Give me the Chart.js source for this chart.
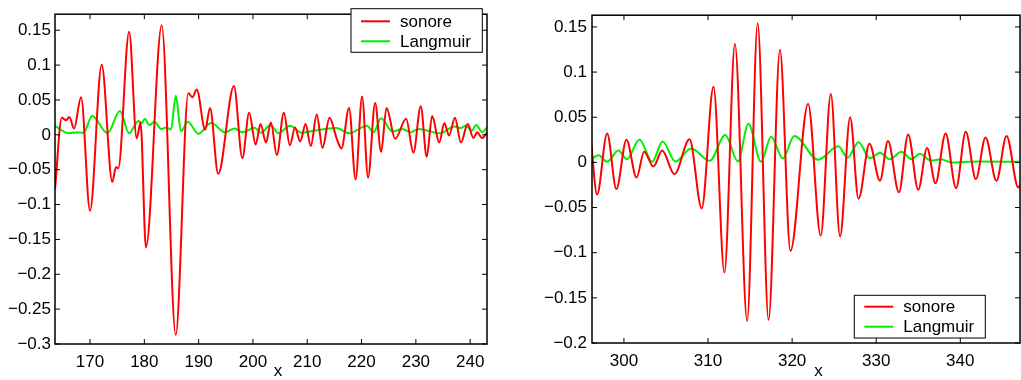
<!DOCTYPE html>
<html>
<head>
<meta charset="utf-8">
<script src="https://cdn.jsdelivr.net/npm/chart.js@4.4.1/dist/chart.umd.min.js"></script>
<style>
  html, body { margin: 0; padding: 0; background: #fff; }
  #wrap { position: relative; width: 1021px; height: 380px; overflow: hidden; }
  .panel { position: absolute; top: 0; height: 380px; }
  #left { left: 0; width: 510px; }
  #right { left: 510px; width: 511px; }
</style>
</head>
<body>
<div id="wrap">
  <div class="panel" id="left"><canvas id="chartLeft"></canvas></div>
  <div class="panel" id="right"><canvas id="chartRight"></canvas></div>
</div>
<script>
// --- left panel data (x, value) ---
const leftSonoreX = [163.55, 164.8, 165.6, 166.2, 167.05, 168.35, 170.0, 172.15, 174.1, 174.8, 175.2, 177.2, 178.6, 179.3, 180.3, 183.2, 185.78, 188.1, 188.85, 189.65, 191.2, 192.1, 193.6, 196.5, 198.05, 199.3, 200.5, 201.4, 202.4, 203.3, 204.4, 205.7, 206.8, 207.75, 208.7, 209.7, 210.65, 211.75, 212.8, 214.1, 215.4, 216.3, 217.7, 218.9, 220.1, 221.2, 222.5, 223.6, 224.6, 226.2, 228.2, 229.55, 230.9, 232.0, 233.0, 234.3, 235.25, 236.1, 237.2, 238.3, 239.55, 240.6, 241.3, 242.2, 243.1];
const leftSonoreY = [-0.078, 0.0246, 0.021, 0.0256, 0.009, 0.054, -0.109, 0.1005, -0.0675, -0.046, -0.048, 0.148, -0.005, 0.0176, -0.1616, 0.157, -0.287, 0.0595, 0.054, 0.065, 0.0074, 0.0386, -0.056, 0.070, -0.0335, 0.0316, -0.014, 0.0154, -0.011, 0.0176, -0.029, 0.0316, -0.015, 0.0106, -0.0094, 0.0154, -0.016, 0.029, -0.0187, 0.0246, -0.0047, -0.0196, 0.0386, -0.064, 0.055, -0.0615, 0.0456, -0.0243, 0.0386, -0.0056, 0.023, -0.0257, 0.041, -0.0313, 0.027, -0.011, 0.0168, -0.001, 0.0246, -0.011, 0.0154, -0.0047, 0.0036, -0.0047, 0.0036];
const leftLangmuirX = [163.55, 166.0, 167.55, 168.8, 170.4, 173.2, 175.5, 177.2, 178.9, 179.5, 180.1, 180.9, 181.85, 183.1, 184.1, 184.9, 185.8, 186.75, 188.0, 189.95, 192.3, 194.9, 196.6, 198.05, 200.3, 201.5, 203.2, 204.7, 206.8, 209.0, 211.0, 215.4, 217.7, 221.0, 222.2, 223.6, 225.7, 227.55, 229.0, 230.45, 234.45, 237.1, 238.25, 239.2, 240.3, 241.1, 242.25, 243.1];
const leftLangmuirY = [0.013, 0.0023, 0.0035, 0.003, 0.027, 0.0023, 0.034, 0.0023, 0.020, 0.0168, 0.023, 0.014, 0.0186, 0.0084, 0.0106, 0.0074, 0.056, 0.005, 0.0186, 0.0014, 0.0168, 0.0036, 0.0092, 0.0036, 0.010, 0.003, 0.014, 0.0023, 0.013, 0.003, 0.0055, 0.0097, 0.0023, 0.013, 0.0036, 0.0237, 0.0046, 0.0084, 0.0036, 0.0084, 0.0023, 0.012, 0.0097, 0.013, 0.006, 0.014, 0.0036, 0.0106];
const leftXTicks = [170, 180, 190, 200, 210, 220, 230, 240];
const leftYTicks = [-0.3, -0.25, -0.2, -0.15, -0.1, -0.05, 0, 0.05, 0.1, 0.15];

// --- right panel data ---
const rightSonoreX = [296.1, 296.8, 298.0, 299.1, 300.3, 301.5, 302.4, 303.5, 304.55, 306.0, 307.8, 309.25, 310.65, 311.95, 313.2, 314.65, 315.9, 317.2, 318.55, 319.8, 321.9, 323.4, 324.6, 325.7, 326.9, 327.9, 329.2, 330.45, 331.4, 332.7, 333.8, 335.0, 336.05, 337.05, 338.25, 339.5, 340.65, 341.85, 343.0, 344.3, 345.5, 346.9, 347.2];
const rightSonoreY = [0.0214, -0.0356, 0.032, -0.0296, 0.025, -0.0168, 0.0118, -0.0046, 0.0131, -0.0131, 0.0256, -0.051, 0.0837, -0.122, 0.131, -0.1755, 0.154, -0.1745, 0.1247, -0.098, 0.0648, -0.081, 0.0758, -0.082, 0.0499, -0.0403, 0.0206, -0.0203, 0.0238, -0.0331, 0.031, -0.0302, 0.016, -0.0232, 0.032, -0.0285, 0.0339, -0.0185, 0.0275, -0.0203, 0.0292, -0.0278, -0.024];
const rightLangmuirX = [296.1, 297.0, 298.0, 299.35, 300.35, 301.85, 303.35, 304.6, 306.1, 308.0, 310.2, 312.05, 313.55, 314.8, 316.3, 317.5, 318.9, 320.25, 323.1, 325.5, 326.6, 327.9, 329.25, 330.45, 331.6, 333.0, 334.2, 335.2, 336.5, 337.7, 338.95, 342.1, 347.2];
const rightLangmuirY = [0.0035, 0.0078, 0.0007, 0.0131, 0.0035, 0.0253, 0.0007, 0.0232, 0.001, 0.0153, 0.0018, 0.0302, 0.001, 0.0427, 0.0007, 0.0285, 0.0043, 0.0292, 0.0029, 0.0178, 0.0053, 0.0224, 0.0046, 0.0107, 0.0035, 0.0118, 0.0035, 0.0096, 0.0018, 0.0035, 0.0, 0.001, 0.0007];
const rightXTicks = [300, 310, 320, 330, 340];
const rightYTicks = [-0.2, -0.15, -0.1, -0.05, 0, 0.05, 0.1, 0.15];

const seriesLabels = ["sonore", "Langmuir"];
const seriesColors = ["#ff0000", "#00ee00"];

const FONT = { family: '"Liberation Sans", Arial, sans-serif', size: 17 };

function pts(xs, ys) {
  return xs.map((x, i) => ({ x: x, y: ys[i] }));
}

function fmt(v) {
  const s = String(+v.toFixed(2));
  return s.replace("-", "\u2212");
}

// box, inward ticks, xlabel and legend drawn like the matlab figure
const framePlugin = {
  id: "frame",
  afterDraw(chart, args, o) {
    const ctx = chart.ctx;
    const a = chart.chartArea;
    const sx = chart.scales.x, sy = chart.scales.y;
    ctx.save();
    ctx.strokeStyle = "#000";
    ctx.lineWidth = 1;
    ctx.beginPath();
    const len = 5;
    sx.ticks.forEach(t => {
      const p = sx.getPixelForValue(t.value);
      ctx.moveTo(p, a.bottom); ctx.lineTo(p, a.bottom - len);
      ctx.moveTo(p, a.top); ctx.lineTo(p, a.top + len);
    });
    sy.ticks.forEach(t => {
      const p = sy.getPixelForValue(t.value);
      ctx.moveTo(a.left, p); ctx.lineTo(a.left + len, p);
      ctx.moveTo(a.right, p); ctx.lineTo(a.right - len, p);
    });
    ctx.stroke();
    ctx.lineWidth = 1.5;
    ctx.strokeRect(a.left, a.top, a.right - a.left, a.bottom - a.top);

    ctx.font = FONT.size + "px " + FONT.family;
    ctx.fillStyle = "#000";
    ctx.textAlign = "center";
    ctx.textBaseline = "alphabetic";
    ctx.fillText("x", o.labelX, o.labelY);

    const lg = o.legend;
    ctx.fillStyle = "#fff";
    ctx.fillRect(lg.x, lg.y, lg.w, lg.h);
    ctx.lineWidth = 1;
    ctx.strokeRect(lg.x, lg.y, lg.w, lg.h);
    chart.data.datasets.forEach((ds, i) => {
      const y = lg.y + lg.row0 + i * lg.gap;
      ctx.strokeStyle = ds.borderColor;
      ctx.lineWidth = 2;
      ctx.beginPath();
      ctx.moveTo(lg.x + 10, y);
      ctx.lineTo(lg.x + 39, y);
      ctx.stroke();
      ctx.fillStyle = "#000";
      ctx.textAlign = "left";
      ctx.textBaseline = "middle";
      ctx.fillText(ds.label, lg.x + 49, y + 1);
    });
    ctx.restore();
  }
};

function makePanel(id, cfg) {
  return new Chart(document.getElementById(id), {
    type: "line",
    data: {
      datasets: [
        { label: seriesLabels[0], data: pts(cfg.sx, cfg.sy), borderColor: seriesColors[0] },
        { label: seriesLabels[1], data: pts(cfg.lx, cfg.ly), borderColor: seriesColors[1] }
      ].map(d => Object.assign(d, {
        borderWidth: 2, pointRadius: 0, fill: false, cubicInterpolationMode: "monotone"
      }))
    },
    options: {
      responsive: true,
      maintainAspectRatio: false,
      animation: false,
      layout: { padding: { left: 0, top: cfg.top, right: cfg.right, bottom: 0 } },
      plugins: {
        legend: { display: false },
        tooltip: { enabled: false },
        frame: cfg.frame
      },
      scales: {
        x: {
          type: "linear",
          min: cfg.xmin, max: cfg.xmax,
          afterBuildTicks: s => { s.ticks = cfg.xticks.map(v => ({ value: v })); },
          afterFit: s => { s.height = cfg.xh; },
          grid: { display: false, drawTicks: false },
          border: { display: false },
          ticks: { font: FONT, color: "#000", padding: 8, maxRotation: 0, autoSkip: false, callback: v => String(v) }
        },
        y: {
          min: cfg.ymin, max: cfg.ymax,
          afterBuildTicks: s => { s.ticks = cfg.yticks.map(v => ({ value: v })); },
          afterFit: s => { s.width = cfg.yw; },
          grid: { display: false, drawTicks: false },
          border: { display: false },
          ticks: { font: FONT, color: "#000", padding: cfg.ypad, autoSkip: false, callback: v => fmt(v) }
        }
      }
    },
    plugins: [framePlugin]
  });
}

makePanel("chartLeft", {
  sx: leftSonoreX, sy: leftSonoreY, lx: leftLangmuirX, ly: leftLangmuirY,
  xmin: 163.55, xmax: 243.1, ymin: -0.3, ymax: 0.173,
  xticks: leftXTicks, yticks: leftYTicks,
  top: 4, right: 23, xh: 36, yw: 55, ypad: 4,
  frame: { labelX: 278, labelY: 376, legend: { x: 351, y: 8.7, w: 131.3, h: 43.6, row0: 12.6, gap: 20 } }
});

makePanel("chartRight", {
  sx: rightSonoreX, sy: rightSonoreY, lx: rightLangmuirX, ly: rightLangmuirY,
  xmin: 296.2, xmax: 347.1, ymin: -0.2, ymax: 0.163,
  xticks: rightXTicks, yticks: rightYTicks,
  top: 3, right: 1, xh: 37, yw: 82, ypad: 5,
  frame: { labelX: 308.5, labelY: 376, legend: { x: 344.3, y: 295.3, w: 131, h: 42.7, row0: 11.4, gap: 20 } }
});
</script>
</body>
</html>
